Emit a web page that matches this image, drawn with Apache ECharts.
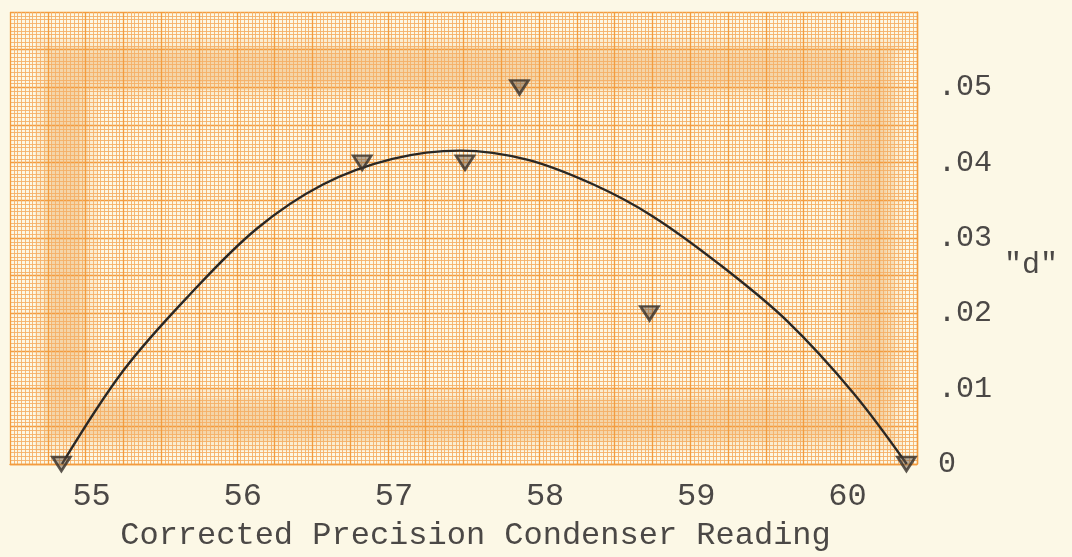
<!DOCTYPE html>
<html>
<head>
<meta charset="utf-8">
<script src="https://cdn.jsdelivr.net/npm/echarts@6/dist/echarts.min.js"></script>
<style>
  html, body { margin: 0; padding: 0; background: #fcf8e6; overflow: hidden; }
  #chart { width: 100vw; height: 100vh; }
</style>
</head>
<body>
<div id="chart"></div>
<script>
// ---- data ----
const pointX = [54.84, 56.83, 57.51, 57.87, 58.73, 60.43];
const pointY = [0, 0.04, 0.04, 0.05, 0.02, 0];

const curveX = [54.844, 55.25, 55.69, 56.13, 56.57, 57.03, 57.48, 57.92, 58.36, 58.75, 59.20, 59.64, 60.08, 60.432];
const curveY = [0, 0.0124, 0.0225, 0.0312, 0.0371, 0.0405, 0.0416, 0.0404, 0.0371, 0.0329, 0.0264, 0.0190, 0.0094, 0];

const xTickValues = [55, 56, 57, 58, 59, 60];
const xTickLabels = ['55', '56', '57', '58', '59', '60'];
const yTickValues = [0, 0.01, 0.02, 0.03, 0.04, 0.05];
const yTickLabels = ['0', '.01', '.02', '.03', '.04', '.05'];

const xTitle = 'Corrected Precision Condenser Reading';
const yTitle = '"d"';

// ---- chart ----
const FONT = '"Liberation Mono", "DejaVu Sans Mono", monospace';
const TEXT = '#4b4846';
const MAJOR = '#f39c3f';
const MINOR = '#f5b068';

function xLabel(v) {
  for (let i = 0; i < xTickValues.length; i++) {
    if (Math.abs(v - xTickValues[i]) < 1e-6) return xTickLabels[i];
  }
  return '';
}
function yLabel(v) {
  for (let i = 0; i < yTickValues.length; i++) {
    if (Math.abs(v - yTickValues[i]) < 1e-9) return yTickLabels[i];
  }
  return '';
}

const chart = echarts.init(document.getElementById('chart'), null, { renderer: 'canvas' });

const option = {
  backgroundColor: '#fcf8e6',
  animation: false,
  grid: { left: 10, right: 155, top: 12, bottom: 85, containLabel: false },
  graphic: [
    { type: 'rect', z: -10, silent: true,
      shape: { x: 66, y: 68, width: 806, height: 352 },
      style: { fill: 'none', stroke: 'rgba(236,160,70,0.13)', lineWidth: 62 } },
    { type: 'rect', z: -10, silent: true,
      shape: { x: 66, y: 68, width: 806, height: 352 },
      style: { fill: 'none', stroke: 'rgba(232,150,60,0.16)', lineWidth: 44 } },
    { type: 'rect', z: -10, silent: true,
      shape: { x: 66, y: 68, width: 806, height: 352 },
      style: { fill: 'none', stroke: 'rgba(228,145,55,0.12)', lineWidth: 28 } },
    { type: 'text', left: 1004, top: 250, silent: true,
      style: { text: yTitle, font: '30px "Liberation Mono", "DejaVu Sans Mono", monospace', fill: TEXT } }
  ],
  xAxis: {
    type: 'value',
    min: 54.5, max: 60.5, interval: 0.25,
    name: xTitle,
    nameLocation: 'middle',
    nameGap: 56,
    nameTextStyle: { fontFamily: FONT, fontSize: 32, color: TEXT, padding: [0, 0, 0, 24] },
    axisLine: { show: true, lineStyle: { color: MAJOR, width: 1.4 } },
    axisTick: { show: false },
    axisLabel: {
      formatter: xLabel, fontFamily: FONT, fontSize: 32, color: TEXT, margin: 17,
      padding: [0, 0, 0, 12], showMinLabel: true, showMaxLabel: true, hideOverlap: false
    },
    splitLine: { show: true, lineStyle: { color: MAJOR, width: 1.3 } },
    minorTick: { show: false, splitNumber: 10 },
    minorSplitLine: { show: true, lineStyle: { color: MINOR, width: 0.9 } }
  },
  yAxis: {
    type: 'value',
    position: 'right',
    min: 0, max: 0.06, interval: 0.005,
    axisLine: { show: true, lineStyle: { color: MAJOR, width: 1.4 } },
    axisTick: { show: false },
    axisLabel: {
      formatter: yLabel, fontFamily: FONT, fontSize: 30, color: TEXT, margin: 21,
      showMinLabel: true, showMaxLabel: true, hideOverlap: false
    },
    splitLine: { show: true, lineStyle: { color: MAJOR, width: 1.3 } },
    minorTick: { show: false, splitNumber: 10 },
    minorSplitLine: { show: true, lineStyle: { color: MINOR, width: 0.9 } }
  },
  series: [
    {
      type: 'line',
      name: 'curve',
      data: curveX.map((x, i) => [x, curveY[i]]),
      smooth: 0.35,
      showSymbol: false,
      symbol: 'none',
      lineStyle: { color: '#2b2825', width: 2.4 },
      z: 3
    },
    {
      type: 'scatter',
      name: 'points',
      data: pointX.map((x, i) => [x, pointY[i]]),
      symbol: 'triangle',
      symbolRotate: 180,
      symbolSize: [18, 14],
      itemStyle: { color: 'rgba(105,90,75,0.6)', borderColor: '#36302b', borderWidth: 2.6 },
      z: 4
    }
  ]
};

chart.setOption(option);
</script>
</body>
</html>
